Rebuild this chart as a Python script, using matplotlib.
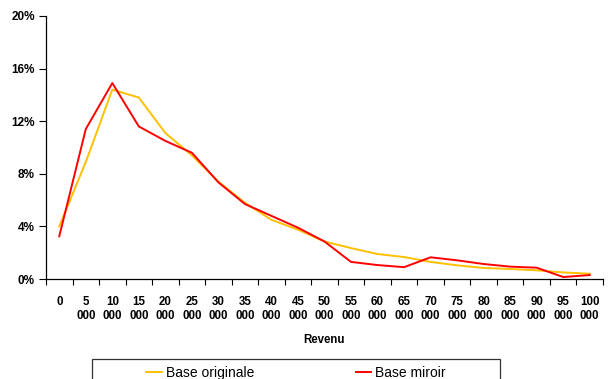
import numpy as np
import matplotlib.pyplot as plt
from matplotlib.patches import Rectangle
from matplotlib.ticker import FixedLocator, PercentFormatter

plt.rcParams['font.family'] = ['Liberation Sans', 'DejaVu Sans']

# Income brackets (start of bracket, in euros)
revenu = [0, 5000, 10000, 15000, 20000, 25000, 30000, 35000, 40000, 45000, 50000,
          55000, 60000, 65000, 70000, 75000, 80000, 85000, 90000, 95000, 100000]

# Share of households per bracket, in %
base_originale = [4.0, 8.9, 14.4, 13.8, 11.1, 9.4, 7.4, 5.8, 4.5, 3.75, 2.85,
                  2.35, 1.9, 1.67, 1.3, 1.04, 0.84, 0.76, 0.66, 0.5, 0.4]
base_miroir = [3.25, 11.4, 14.9, 11.6, 10.5, 9.6, 7.35, 5.7, 4.8, 3.9, 2.85,
               1.3, 1.06, 0.9, 1.65, 1.42, 1.14, 0.94, 0.86, 0.15, 0.3]

labels = ['0'] + [f'{v // 1000}\n000' for v in revenu[1:]]

W, H = 611, 379
fig = plt.figure(figsize=(W / 100, H / 100), dpi=100)
ax = fig.add_axes([46 / W, 1 - 279 / H, 557 / W, 263 / H])

x = np.arange(len(revenu))
ax.plot(x, base_originale, color='#FFC000', lw=1.4, label='Base originale')
ax.plot(x, base_miroir, color='#FF0000', lw=1.4, label='Base miroir')

ax.set_xlim(-0.5, len(revenu) - 0.5)
ax.set_ylim(0, 20)
ax.set_yticks([0, 4, 8, 12, 16, 20])
ax.yaxis.set_major_formatter(PercentFormatter(decimals=0))

# category labels sit between boundary tick marks
ax.set_xticks(x)
ax.set_xticklabels(labels, fontsize=8.3, fontweight='bold', linespacing=1.25,
                   va='top')
ax.xaxis.set_minor_locator(FixedLocator(np.arange(-0.5, len(revenu), 1)))
ax.tick_params(axis='x', which='major', length=0, pad=12)
ax.tick_params(axis='x', which='minor', length=4, width=0.8, direction='out')
ax.tick_params(axis='y', length=5, width=0.8, labelsize=8.5, pad=3)
for t in ax.get_yticklabels():
    t.set_fontweight('bold')

for s in ['top', 'right']:
    ax.spines[s].set_visible(False)
for s in ['left', 'bottom']:
    ax.spines[s].set_linewidth(0.9)

ax.set_xlabel('Revenu', fontsize=8.3, fontweight='bold', labelpad=9)

# legend entries, with a box running past the bottom edge
leg = fig.legend(loc='center', bbox_to_anchor=(296 / W, 1 - 373 / H), ncol=2,
                 fontsize=10, frameon=False, handlelength=1.1,
                 handletextpad=0.3, columnspacing=7.3, borderpad=0.0)
fig.add_artist(Rectangle((92 / W, -0.05), 408 / W, 0.05 + 1 - 359 / H,
                         transform=fig.transFigure, fill=False,
                         edgecolor='#333333', lw=0.9))

fig.savefig('out.png', dpi=100)
